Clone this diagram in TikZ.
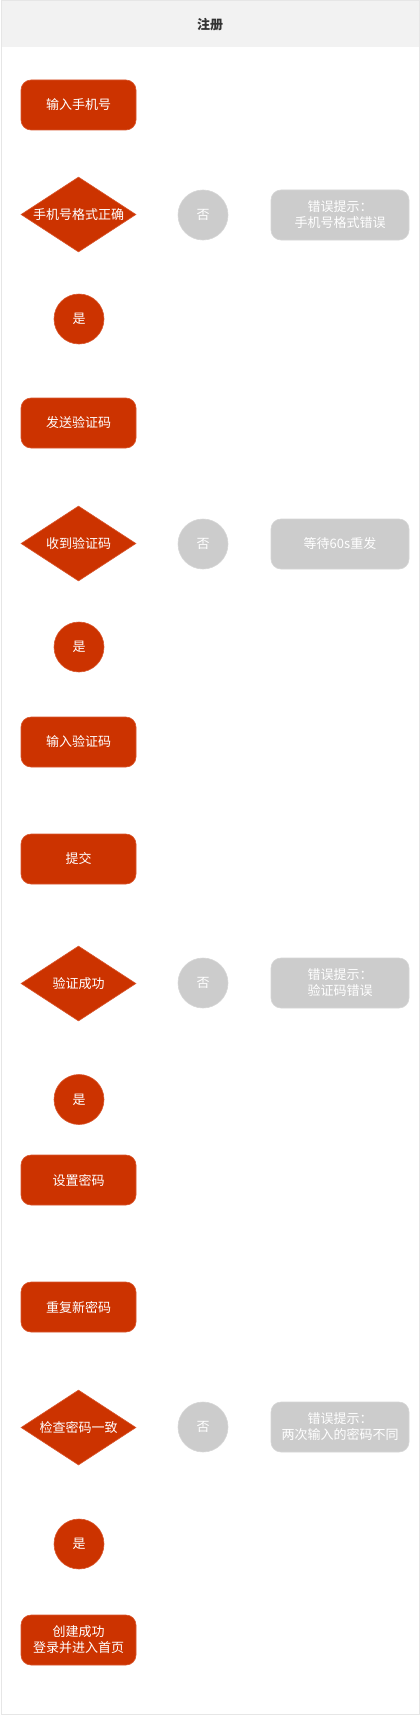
\documentclass[tikz,border=0pt]{standalone}
\usepackage{fontspec}
\setmainfont{Noto Sans CJK SC}
\usetikzlibrary{shapes.geometric}
\definecolor{flowred}{HTML}{CC3300}
\definecolor{flowredline}{HTML}{D9572E}
\definecolor{flowgray}{HTML}{CCCCCC}
\definecolor{flowgrayline}{HTML}{D6D6D6}
\definecolor{headgray}{HTML}{F2F2F2}
\definecolor{framegray}{HTML}{E6E6E6}
\tikzset{
  every node/.style={font=\fontsize{13}{16}\selectfont, text=white, inner sep=0pt},
  stepbox/.style={rectangle, rounded corners=10pt, fill=flowred, draw=flowredline, line width=0.6pt,
    minimum width=115pt, minimum height=50pt, align=center},
  decide/.style={diamond, fill=flowred, draw=flowredline, line width=0.6pt,
    minimum width=115pt, minimum height=75pt},
  yesdot/.style={circle, fill=flowred, draw=flowredline, line width=0.6pt, minimum size=50pt},
  nodot/.style={circle, fill=flowgray, draw=flowgrayline, line width=0.6pt, minimum size=50pt},
  msgbox/.style={rectangle, rounded corners=10pt, fill=flowgray, draw=flowgrayline, line width=0.6pt,
    minimum width=138pt, minimum height=50pt, align=center},
  dtext/.style={text=white, font=\fontsize{13}{16}\selectfont},
}
\begin{document}
\begin{tikzpicture}[x=1pt, y=-1pt]
\useasboundingbox (0,0) rectangle (420,1715);
% frame and header
\draw[framegray, line width=1pt, fill=white] (1,1) rectangle (419,1714);
\fill[headgray] (1.5,1.5) rectangle (418.5,47);
\node[text=black!80, font=\fontsize{13}{16}\selectfont\bfseries] (title) at (210,25) {注册};

% column 1
\node[stepbox] (r1) at (78.5,105) {输入手机号};
\node[decide, label={[dtext]center:手机号格式正确}] (d1) at (78.5,214.5) {};
\node[nodot] (n1) at (203,215) {否};
\node[msgbox] (e1) at (340,215) {错误提示：\\手机号格式错误};
\node[yesdot] (y1) at (79,319) {是};

\node[stepbox] (r2) at (78.5,423) {发送验证码};
\node[decide, label={[dtext]center:收到验证码}] (d2) at (78.5,543.5) {};
\node[nodot] (n2) at (203,544) {否};
\node[msgbox] (e2) at (340,544) {等待60s重发};
\node[yesdot] (y2) at (79,647) {是};

\node[stepbox] (r3) at (78.5,742) {输入验证码};
\node[stepbox] (r4) at (78.5,859) {提交};
\node[decide, label={[dtext]center:验证成功}] (d3) at (78.5,983.5) {};
\node[nodot] (n3) at (203,983) {否};
\node[msgbox] (e3) at (340,983) {错误提示：\\验证码错误};
\node[yesdot] (y3) at (79,1099.5) {是};

\node[stepbox] (r5) at (78.5,1180) {设置密码};
\node[stepbox] (r6) at (78.5,1307) {重复新密码};
\node[decide, label={[dtext]center:检查密码一致}] (d4) at (78.5,1427.5) {};
\node[nodot] (n4) at (203,1427) {否};
\node[msgbox] (e4) at (340,1427) {错误提示：\\两次输入的密码不同};
\node[yesdot] (y4) at (79,1544) {是};

\node[stepbox] (r7) at (78.5,1640) {创建成功\\登录并进入首页};
\end{tikzpicture}
\end{document}
